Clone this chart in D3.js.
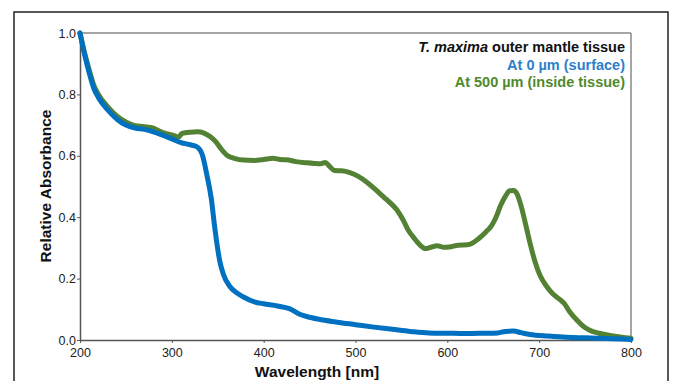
<!DOCTYPE html>
<html><head><meta charset="utf-8">
<script src="https://cdn.jsdelivr.net/npm/d3@7"></script>
<style>body{margin:0;background:#fff}svg{display:block}text{font-family:"Liberation Sans",Arial,sans-serif}</style>
</head><body><svg id="c" width="674" height="381"></svg>
<script>
const surfaceWl = [200,205,210,215,220,230,240,250,260,270,280,290,300,310,320,327,333,338,343,347,352,356,363,370,378,390,400,415,428,440,450,465,480,500,520,540,560,580,600,620,640,655,663,672,680,690,710,730,750,770,790,800];
const surfaceAbs = [1.0,0.93,0.87,0.82,0.79,0.75,0.72,0.70,0.69,0.686,0.678,0.667,0.655,0.643,0.636,0.630,0.605,0.54,0.46,0.36,0.26,0.215,0.175,0.155,0.14,0.124,0.118,0.111,0.102,0.083,0.074,0.065,0.058,0.05,0.042,0.035,0.028,0.023,0.022,0.021,0.022,0.023,0.028,0.029,0.024,0.018,0.013,0.009,0.007,0.005,0.003,0.002];
const insideWl = [200,205,210,215,220,230,240,250,260,270,280,287,295,303,307,311,320,328,335,342,348,353,360,368,378,390,400,410,418,425,435,447,455,462,467,472,477,485,494,503,512,520,528,534,545,552,558,563,570,576,582,589,596,602,612,622,627,634,642,648,653,658,663,668,672,676,680,685,690,695,701,708,715,722,727,733,741,748,755,765,777,790,800];
const insideAbs = [1.0,0.935,0.88,0.83,0.80,0.76,0.73,0.71,0.698,0.695,0.69,0.68,0.671,0.665,0.66,0.673,0.677,0.678,0.674,0.662,0.645,0.625,0.602,0.592,0.586,0.585,0.588,0.592,0.588,0.587,0.581,0.577,0.575,0.574,0.578,0.565,0.552,0.551,0.545,0.533,0.515,0.495,0.473,0.457,0.424,0.39,0.355,0.335,0.31,0.298,0.302,0.307,0.302,0.303,0.309,0.31,0.315,0.33,0.352,0.372,0.40,0.438,0.467,0.486,0.487,0.475,0.44,0.38,0.316,0.26,0.21,0.175,0.15,0.133,0.12,0.093,0.065,0.045,0.032,0.022,0.015,0.009,0.006];
const xTicks = [200,300,400,500,600,700,800];
const yTicks = [0,0.2,0.4,0.6,0.8,1.0];
const legendLines = ["At 0 µm (surface)","At 500 µm (inside tissue)"];
const colors = ["#0070C0","#548235"];

const svg = d3.select("#c");
svg.append("rect").attr("x",14).attr("y",12).attr("width",654).attr("height",380)
  .attr("fill","none").attr("stroke","#222").attr("stroke-width",1.5);

const x = d3.scaleLinear().domain([200,800]).range([80,631]);
const y = d3.scaleLinear().domain([0,1]).range([340,33]);

svg.append("line").attr("x1",80).attr("x2",631).attr("y1",33).attr("y2",33).attr("stroke","#888").attr("stroke-width",1.5);
svg.append("line").attr("x1",631).attr("x2",631).attr("y1",33).attr("y2",340).attr("stroke","#888").attr("stroke-width",1.5);

const xAxis = svg.append("g").attr("transform","translate(0,340)")
  .call(d3.axisBottom(x).tickValues(xTicks).tickFormat(d3.format("d")).tickSize(3).tickSizeOuter(0));
const yAxis = svg.append("g").attr("transform","translate(80,0)")
  .call(d3.axisLeft(y).tickValues(yTicks).tickFormat(d3.format(".1f")).tickSize(3).tickSizeOuter(0).tickPadding(1));
[xAxis,yAxis].forEach(g=>{
  g.select(".domain").attr("stroke","#555").attr("stroke-width",1.5);
  g.selectAll(".tick line").attr("stroke","#555");
  g.selectAll("text").attr("font-size",12.5).attr("fill","#222").style("font-family","'Liberation Sans',Arial,sans-serif");
});
xAxis.selectAll("text").attr("dy","0.9em");

const line = d3.line().x(d=>x(d[0])).y(d=>y(d[1])).curve(d3.curveMonotoneX);
const inside = insideWl.map((w,i)=>[w,insideAbs[i]]);
const surface = surfaceWl.map((w,i)=>[w,surfaceAbs[i]]);
svg.append("path").datum(inside).attr("d",line).attr("fill","none").attr("stroke",colors[1]).attr("stroke-width",5).attr("stroke-linejoin","round").attr("stroke-linecap","round");
svg.append("path").datum(surface).attr("d",line).attr("fill","none").attr("stroke",colors[0]).attr("stroke-width",5).attr("stroke-linejoin","round").attr("stroke-linecap","round");

svg.append("text").attr("x",317).attr("y",377).attr("text-anchor","middle").attr("font-size",15.5).attr("font-weight","bold").attr("fill","#111").text("Wavelength [nm]");
svg.append("text").attr("transform","translate(51,186) rotate(-90)").attr("text-anchor","middle").attr("font-size",15.5).attr("font-weight","bold").attr("fill","#111").text("Relative Absorbance");

const t1 = svg.append("text").attr("x",625).attr("y",52).attr("text-anchor","end").attr("font-size",14.5).attr("font-weight","bold").attr("fill","#111");
t1.append("tspan").attr("font-style","italic").text("T. maxima");
t1.append("tspan").text(" outer mantle tissue");
legendLines.forEach((s,i)=>{
  svg.append("text").attr("x",625).attr("y",70+i*17).attr("text-anchor","end").attr("font-size",14.5).attr("font-weight","bold").attr("fill",i===0?"#2E7FCC":"#4F8A2C").text(s);
});
</script></body></html>
